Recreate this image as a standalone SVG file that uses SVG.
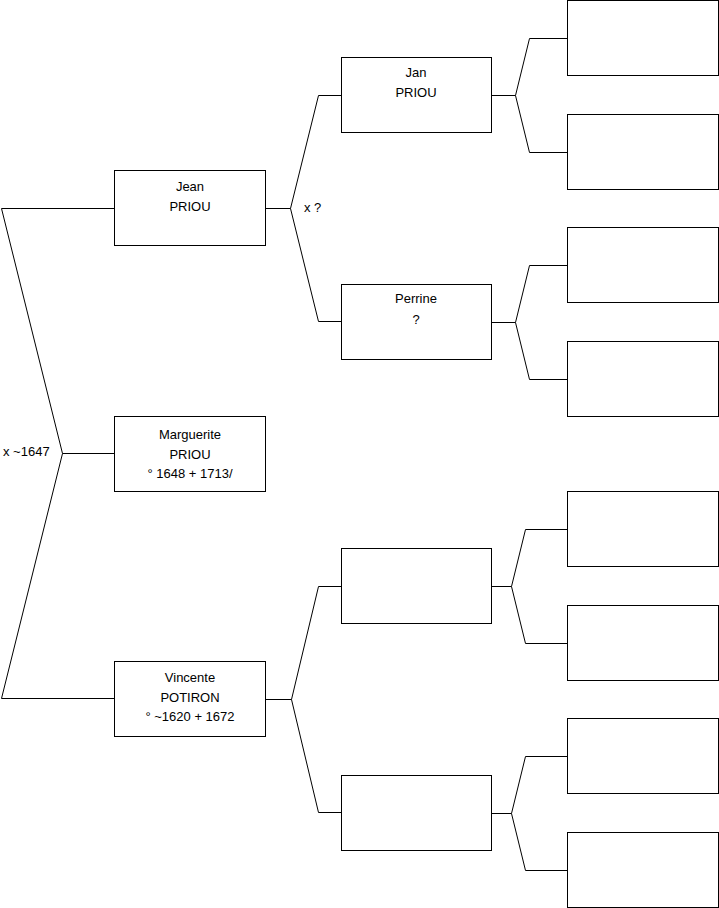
<svg xmlns="http://www.w3.org/2000/svg" width="719" height="908" viewBox="0 0 719 908">
<style>
.box{fill:#fff;stroke:#000;stroke-width:1}
.ln{fill:none;stroke:#000;stroke-width:1}
text{font-family:"Liberation Sans",Arial,sans-serif;font-size:13px;fill:#000}
.c{text-anchor:middle}
</style>
<rect width="719" height="908" fill="#fff"/>
<g id="connectors">
<polyline class="ln" points="114,208.5 1.5,208.5 62.5,453.5 1.5,698.5 114,698.5"/>
<line class="ln" x1="62.5" y1="453.5" x2="114" y2="453.5"/>
<polyline class="ln" points="341,95.5 318.5,95.5 290.5,208.5 318.5,321.5 341,321.5"/>
<line class="ln" x1="265" y1="208.5" x2="290.5" y2="208.5"/>
<polyline class="ln" points="341,586.5 318.5,586.5 291.5,699.5 318.5,812.5 341,812.5"/>
<line class="ln" x1="265" y1="699.5" x2="291.5" y2="699.5"/>
<polyline class="ln" points="567,38.5 529.5,38.5 515.5,95.5 529.5,152.5 567,152.5"/>
<line class="ln" x1="492" y1="95.5" x2="515.5" y2="95.5"/>
<polyline class="ln" points="567,265.5 529.5,265.5 515.5,322.5 529.5,379.5 567,379.5"/>
<line class="ln" x1="492" y1="322.5" x2="515.5" y2="322.5"/>
<polyline class="ln" points="567,529.5 525.5,529.5 511.5,586.5 525.5,643.5 567,643.5"/>
<line class="ln" x1="492" y1="586.5" x2="511.5" y2="586.5"/>
<polyline class="ln" points="567,756.5 525.5,756.5 511.5,813.5 525.5,870.5 567,870.5"/>
<line class="ln" x1="492" y1="813.5" x2="511.5" y2="813.5"/>
<text x="3" y="456">x ~1647</text>
<text x="304" y="212">x ?</text>
</g>
<g id="n-jean"><rect class="box" x="114.5" y="170.5" width="151" height="75"/>
<text class="c" x="190" y="191">Jean</text><text class="c" x="190" y="211">PRIOU</text></g>
<g id="n-marguerite"><rect class="box" x="114.5" y="416.5" width="151" height="75"/>
<text class="c" x="190" y="439">Marguerite</text><text class="c" x="190" y="459">PRIOU</text><text class="c" x="190" y="478">° 1648 + 1713/</text></g>
<g id="n-vincente"><rect class="box" x="114.5" y="661.5" width="151" height="75"/>
<text class="c" x="190" y="682">Vincente</text><text class="c" x="190" y="702">POTIRON</text><text class="c" x="190" y="721">° ~1620 + 1672</text></g>
<g id="n-jan"><rect class="box" x="341.5" y="57.5" width="150" height="75"/>
<text class="c" x="416" y="77">Jan</text><text class="c" x="416" y="97">PRIOU</text></g>
<g id="n-perrine"><rect class="box" x="341.5" y="284.5" width="150" height="75"/>
<text class="c" x="416" y="303">Perrine</text><text class="c" x="416" y="324">?</text></g>
<g id="n-g2c"><rect class="box" x="341.5" y="548.5" width="150" height="75"/></g>
<g id="n-g2d"><rect class="box" x="341.5" y="775.5" width="150" height="75"/></g>
<g id="n-g3a"><rect class="box" x="567.5" y="0.5" width="151" height="75"/></g>
<g id="n-g3b"><rect class="box" x="567.5" y="114.5" width="151" height="75"/></g>
<g id="n-g3c"><rect class="box" x="567.5" y="227.5" width="151" height="75"/></g>
<g id="n-g3d"><rect class="box" x="567.5" y="341.5" width="151" height="75"/></g>
<g id="n-g3e"><rect class="box" x="567.5" y="491.5" width="151" height="75"/></g>
<g id="n-g3f"><rect class="box" x="567.5" y="605.5" width="151" height="75"/></g>
<g id="n-g3g"><rect class="box" x="567.5" y="718.5" width="151" height="75"/></g>
<g id="n-g3h"><rect class="box" x="567.5" y="832.5" width="151" height="75"/></g>
</svg>
